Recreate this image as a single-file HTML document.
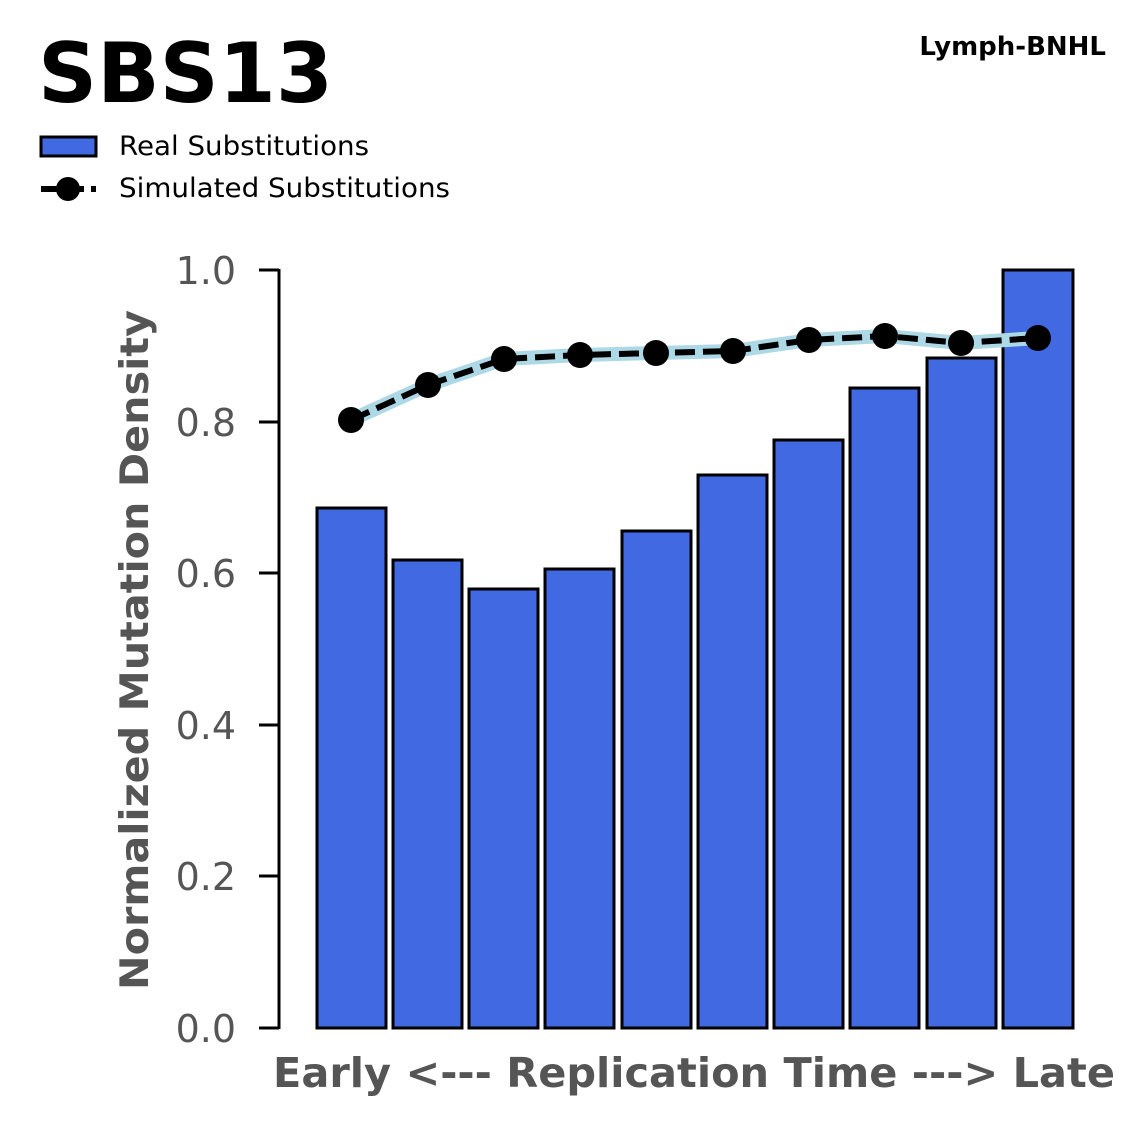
<!DOCTYPE html>
<html><head><meta charset="utf-8"><style>
html,body{margin:0;padding:0;background:#fff;}
svg{display:block;font-family:"DejaVu Sans","Liberation Sans",sans-serif;}
</style></head><body>
<svg width="1147" height="1125" viewBox="0 0 1147 1125" xmlns="http://www.w3.org/2000/svg">
<text x="38" y="102" font-size="83" font-weight="bold" fill="#000" textLength="295" lengthAdjust="spacingAndGlyphs">SBS13</text>
<text x="1106" y="55" font-size="26" font-weight="bold" fill="#000" text-anchor="end">Lymph-BNHL</text>
<rect x="41" y="137" width="55" height="19" fill="#4169e1" stroke="#000" stroke-width="3"/>
<text x="119" y="155" font-size="27" fill="#000" textLength="250" lengthAdjust="spacingAndGlyphs">Real Substitutions</text>
<line x1="41" y1="189" x2="96" y2="189" stroke="#000" stroke-width="6" stroke-dasharray="18,7"/>
<circle cx="68" cy="189" r="12" fill="#000"/>
<text x="119" y="197" font-size="27" fill="#000" textLength="331" lengthAdjust="spacingAndGlyphs">Simulated Substitutions</text>
<g fill="#4169e1" stroke="#000" stroke-width="3">
<rect x="317" y="508" width="69" height="520"/>
<rect x="393" y="560" width="69" height="468"/>
<rect x="469" y="589" width="69" height="439"/>
<rect x="545" y="569" width="69" height="459"/>
<rect x="622" y="531" width="69" height="497"/>
<rect x="698" y="475" width="69" height="553"/>
<rect x="774" y="440" width="69" height="588"/>
<rect x="850" y="388" width="69" height="640"/>
<rect x="927" y="358" width="69" height="670"/>
<rect x="1003" y="270" width="70" height="758"/>
</g>
<polyline points="351,420 428,385 504,359 580,355 656,353 733,351 809,340 885,336 961,343 1038,338" fill="none" stroke="#add8e6" stroke-width="14" stroke-linejoin="round"/>
<polyline points="351,420 428,385 504,359 580,355 656,353 733,351 809,340 885,336 961,343 1038,338" fill="none" stroke="#000" stroke-width="6" stroke-dasharray="20,8"/>
<g fill="#000">
<circle cx="351" cy="420" r="13"/><circle cx="428" cy="385" r="13"/><circle cx="504" cy="359" r="13"/><circle cx="580" cy="355" r="13"/><circle cx="656" cy="353" r="13"/><circle cx="733" cy="351" r="13"/><circle cx="809" cy="340" r="13"/><circle cx="885" cy="336" r="13"/><circle cx="961" cy="343" r="13"/><circle cx="1038" cy="338" r="13"/>
</g>
<line x1="279" y1="269" x2="279" y2="1029" stroke="#000" stroke-width="3"/>
<g stroke="#000" stroke-width="3">
<line x1="259" y1="1028" x2="279" y2="1028"/><line x1="259" y1="876" x2="279" y2="876"/><line x1="259" y1="725" x2="279" y2="725"/><line x1="259" y1="573" x2="279" y2="573"/><line x1="259" y1="422" x2="279" y2="422"/><line x1="259" y1="270" x2="279" y2="270"/>
</g>
<g font-size="38" fill="#555" text-anchor="end">
<text x="236" y="1042">0.0</text><text x="236" y="890">0.2</text><text x="236" y="739">0.4</text><text x="236" y="587">0.6</text><text x="236" y="436">0.8</text><text x="236" y="284">1.0</text>
</g>
<text transform="translate(148,650) rotate(-90)" font-size="39" font-weight="bold" fill="#555" text-anchor="middle" textLength="680" lengthAdjust="spacingAndGlyphs">Normalized Mutation Density</text>
<text x="694" y="1087" font-size="41" font-weight="bold" fill="#555" text-anchor="middle" textLength="842" lengthAdjust="spacingAndGlyphs">Early &lt;--- Replication Time ---&gt; Late</text>
</svg>
</body></html>
